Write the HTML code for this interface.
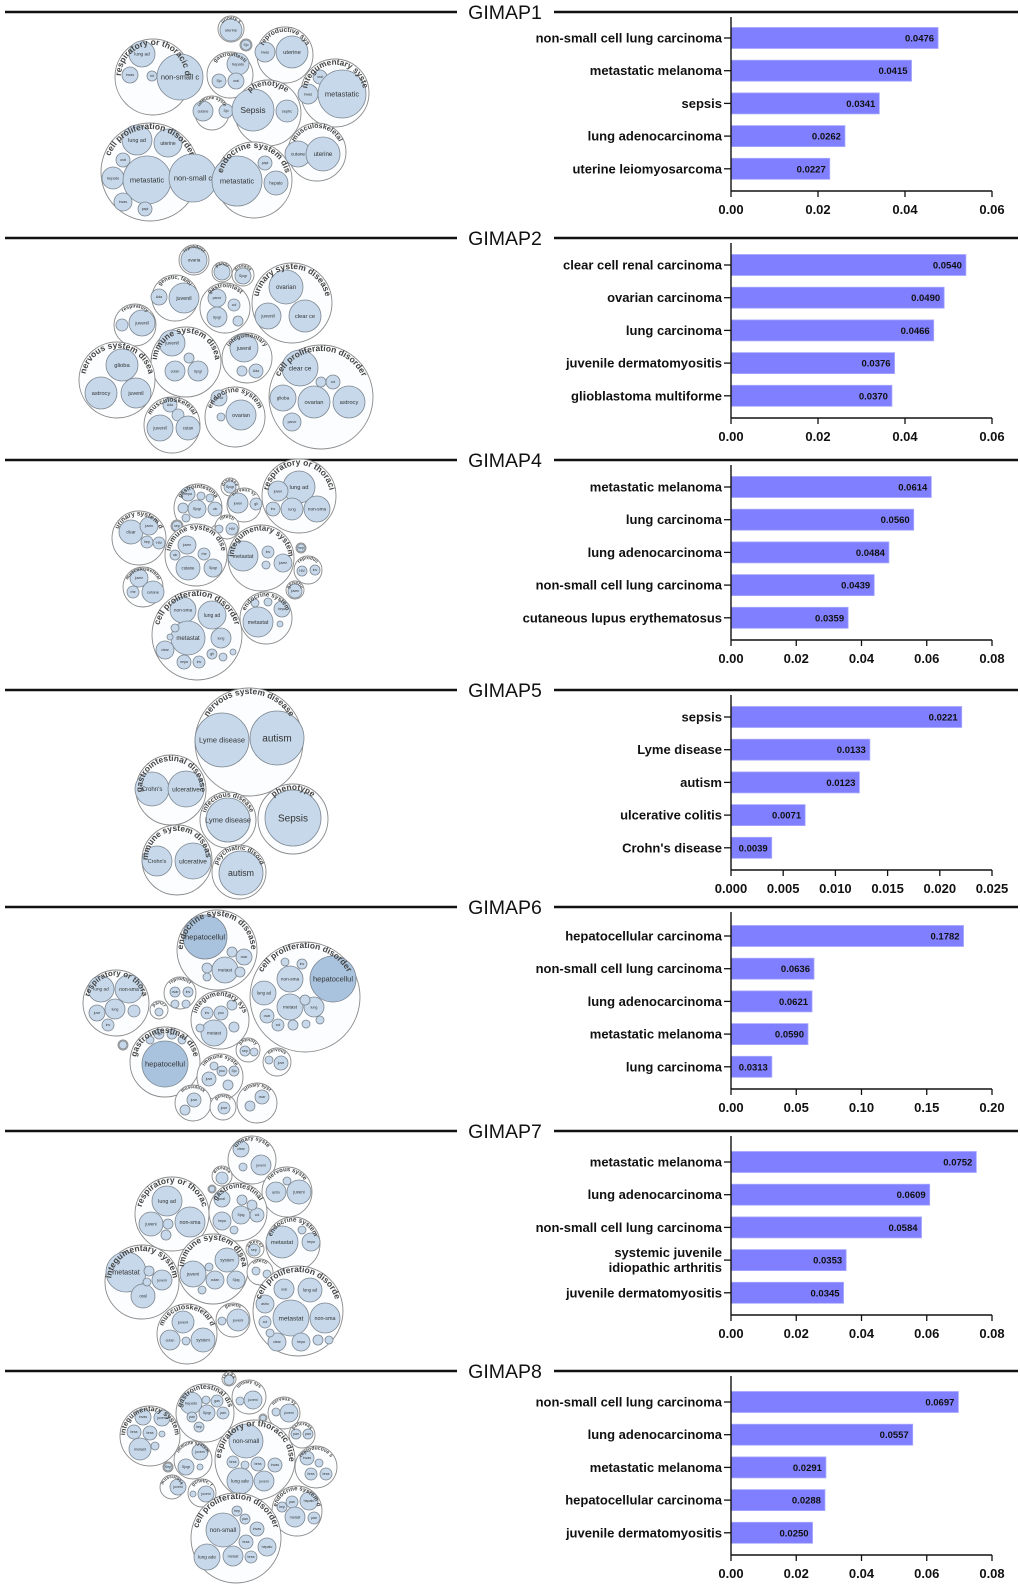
<!DOCTYPE html>
<html><head><meta charset="utf-8"><style>
html,body{margin:0;padding:0;background:#fff}
svg{display:block}
</style></head><body>
<svg id="fig" width="1020" height="1594" viewBox="0 0 1020 1594" xmlns="http://www.w3.org/2000/svg" font-family="'Liberation Sans', Arial, sans-serif"></svg>
<script>
// ---------- bar chart data ----------
const genes = ["GIMAP1","GIMAP2","GIMAP4","GIMAP5","GIMAP6","GIMAP7","GIMAP8"];
const panelTops = [12,238,460,690,907,1131,1371];
const firstBarOffsets = [26,27,27,27,29,31,31];
const cats1 = ["non-small cell lung carcinoma","metastatic melanoma","sepsis","lung adenocarcinoma","uterine leiomyosarcoma"];
const vals1 = [0.0476,0.0415,0.0341,0.0262,0.0227];
const cats2 = ["clear cell renal carcinoma","ovarian carcinoma","lung carcinoma","juvenile dermatomyositis","glioblastoma multiforme"];
const vals2 = [0.0540,0.0490,0.0466,0.0376,0.0370];
const cats4 = ["metastatic melanoma","lung carcinoma","lung adenocarcinoma","non-small cell lung carcinoma","cutaneous lupus erythematosus"];
const vals4 = [0.0614,0.0560,0.0484,0.0439,0.0359];
const cats5 = ["sepsis","Lyme disease","autism","ulcerative colitis","Crohn's disease"];
const vals5 = [0.0221,0.0133,0.0123,0.0071,0.0039];
const cats6 = ["hepatocellular carcinoma","non-small cell lung carcinoma","lung adenocarcinoma","metastatic melanoma","lung carcinoma"];
const vals6 = [0.1782,0.0636,0.0621,0.0590,0.0313];
const cats7 = ["metastatic melanoma","lung adenocarcinoma","non-small cell lung carcinoma","systemic juvenile|idiopathic arthritis","juvenile dermatomyositis"];
const vals7 = [0.0752,0.0609,0.0584,0.0353,0.0345];
const cats8 = ["non-small cell lung carcinoma","lung adenocarcinoma","metastatic melanoma","hepatocellular carcinoma","juvenile dermatomyositis"];
const vals8 = [0.0697,0.0557,0.0291,0.0288,0.0250];
const ticks1 = ["0.00","0.02","0.04","0.06"];
const ticks2 = ["0.00","0.02","0.04","0.06"];
const ticks4 = ["0.00","0.02","0.04","0.06","0.08"];
const ticks5 = ["0.000","0.005","0.010","0.015","0.020","0.025"];
const ticks6 = ["0.00","0.05","0.10","0.15","0.20"];
const ticks7 = ["0.00","0.02","0.04","0.06","0.08"];
const ticks8 = ["0.00","0.02","0.04","0.06","0.08"];
const allCats = [cats1,cats2,cats4,cats5,cats6,cats7,cats8];
const allVals = [vals1,vals2,vals4,vals5,vals6,vals7,vals8];
const allTicks = [ticks1,ticks2,ticks4,ticks5,ticks6,ticks7,ticks8];

// ---------- bubble data: [cx,cy,r,label,[[cx,cy,r,label],...]] ----------
const bub1 = [
 [153,77,38,"respiratory or thoracic d",[[142,54,13,"lung ad"],[130,75,8,"invas"],[152,76,5,"int"],[180,77,23,"non-small c"]]],
 [231,29,13,"urinary s",[[231,30,11,"uterine"]]],
 [246,45,6,"",[[246,45,5,"Sjo"]]],
 [285,55,28,"reproductive sys",[[265,52,10,"invas"],[292,52,16,"uterine"]]],
 [230,75,23,"gastrointesti",[[238,64,11,"hepato"],[219,81,7,"Sjo"],[236,81,8,"oral"]]],
 [212,113,17,"immune syste",[[203,111,10,"cutane"],[226,111,7,"Sjo"]]],
 [268,113,33,"phenotype",[[253,110,21,"Sepsis"],[287,111,11,"septic"]]],
 [335,93,34,"integumentary syste",[[320,77,7,"oral"],[308,94,10,"invas"],[342,94,24,"metastatic"]]],
 [150,172,49,"cell proliferation disorder",[[137,140,15,"lung ad"],[168,143,14,"uterine"],[123,160,7,"oral"],[113,178,11,"hepato"],[147,180,24,"metastatic"],[193,178,24,"non-small c"],[123,202,9,"invas"],[145,209,7,"papi"]]],
 [254,180,38,"endocrine system dis",[[237,181,25,"metastatic"],[265,163,7,"papi"],[276,183,12,"hepato"]]],
 [317,152,29,"musculoskeletal",[[298,154,13,"cutane"],[323,154,17,"uterine"]]]
];
const bub2 = [
 [194,260,15,"reproduct",[[194,260,13,"ovaria"]]],
 [222,272,10,"pancr",[[222,272,8,""]]],
 [243,275,11,"disease",[[243,276,8,"Sjogr"]]],
 [175,298,23,"genetic, fami",[[159,297,8,"Ada"],[184,298,15,"juvenil"]]],
 [225,308,25,"gastrointest",[[217,298,9,"pancr"],[234,305,6,"col"],[217,317,10,"Sjogr"],[238,321,5,""]]],
 [292,303,40,"urinary system disease",[[286,287,17,"ovarian"],[268,316,13,"juvenil"],[305,316,16,"clear ce"]]],
 [135,325,21,"respiratory",[[142,323,13,"juvenil"],[122,325,6,""]]],
 [186,362,35,"immune system disea",[[172,343,13,"juvenil"],[175,371,10,"cutan"],[198,371,10,"Sjogr"],[189,358,5,""]]],
 [247,358,25,"integumentary",[[244,348,14,"juvenil"],[256,371,7,"Ada"],[242,371,5,""]]],
 [117,380,38,"nervous system disea",[[122,365,16,"glioba"],[101,393,16,"astrocy"],[136,393,15,"juvenil"]]],
 [321,397,52,"cell proliferation disorder",[[300,368,18,"clear ce"],[333,382,7,"col"],[321,382,5,""],[283,398,13,"glioba"],[314,402,16,"ovarian"],[349,402,16,"astrocy"],[292,422,9,"pancr"]]],
 [172,425,28,"musculoskeletal",[[170,405,7,"Ada"],[178,415,6,""],[160,428,13,"juvenil"],[188,428,12,"cutan"]]],
 [235,417,30,"endocrine system",[[219,398,8,"pancr"],[241,415,15,"ovarian"],[221,417,4,""]]]
];
const bub4 = [
 [230,487,9,"disease",[[230,487,6,"Sjogr"]]],
 [198,508,24,"gastrointestina",[[188,494,7,"nepa"],[197,509,9,"Sjogr"],[215,509,7,"ulc"],[183,508,5,""],[201,496,4,""],[210,498,4,""],[186,518,4,""]]],
 [244,505,17,"nervous sy",[[238,503,10,"juven"],[256,504,6,"gli"]]],
 [299,496,37,"respiratory or thoraci",[[299,487,16,"lung ad"],[278,491,10,"juven"],[273,509,7,"inv"],[292,509,11,"lung"],[317,509,13,"non-sma"]]],
 [227,527,12,"infecti",[[232,529,6,"HIV"],[219,529,4,""]]],
 [177,526,6,"",[[177,526,5,"sep"]]],
 [139,538,27,"urinary system d",[[131,532,12,"clear"],[149,526,9,"juven"],[147,542,6,"hep"],[159,543,6,"HIV"]]],
 [196,555,31,"immune system dise",[[187,545,9,"juven"],[175,555,5,"ulc"],[204,554,6,"rhe"],[188,568,12,"cutane"],[213,568,9,"Sjogr"]]],
 [261,558,33,"integumentary system",[[243,556,15,"metastat"],[268,552,6,"inv"],[283,563,9,"juven"],[266,565,4,""]]],
 [301,548,5,"",[[301,548,4,"hep"]]],
 [308,570,14,"reproduc",[[302,571,5,"HIV"],[315,570,5,"inv"]]],
 [295,590,9,"genetic",[[295,591,7,"juven"]]],
 [143,587,20,"musculoskeletal",[[139,578,9,"juven"],[133,592,6,"rhe"],[153,592,11,"cutane"]]],
 [197,635,45,"cell proliferation disorder",[[183,610,13,"non-sma"],[212,615,14,"lung ad"],[188,638,17,"metastat"],[221,638,10,"lung"],[165,650,9,"clear"],[184,662,7,"nepa"],[199,662,6,"inv"],[212,654,5,"gli"],[223,657,4,""],[233,652,3,""],[175,628,4,""],[170,637,3,""]]],
 [266,618,26,"endocrine system",[[258,622,15,"metastat"],[282,609,8,"hepa"],[255,603,4,""],[268,602,4,""],[280,624,3,""]]]
];
const bub5 = [
 [249,742,54,"nervous system disease",[[222,740,27,"Lyme disease"],[277,738,27,"autism"]]],
 [171,790,35,"gastrointestinal disease",[[152,789,17,"Crohn's"],[186,789,18,"ulcerative"]]],
 [228,820,28,"infectious disease",[[228,820,22,"Lyme disease"]]],
 [293,819,35,"phenotype",[[293,818,28,"Sepsis"]]],
 [177,860,35,"immune system disease",[[157,861,15,"Crohn's"],[193,861,18,"ulcerative"]]],
 [239,872,27,"psychiatric disord",[[241,873,22,"autism"]]]
];
const bub6 = [
 [217,950,40,"endocrine system disease",[[205,937,22,"hepatocellul"],[225,970,13,"metast"],[244,957,8,"ovar"],[232,952,5,""],[207,968,5,""],[207,977,4,""],[240,972,5,""]]],
 [305,997,55,"cell proliferation disorder",[[333,979,23,"hepatocellul"],[264,993,12,"lung ad"],[290,979,13,"non-sma"],[290,1007,13,"metast"],[314,1007,10,"lung"],[267,1016,7,"ovar"],[278,1025,6,"col"],[302,964,5,"inv"],[285,962,4,""],[305,1000,5,""],[293,1025,5,""],[306,1024,4,""],[320,1020,4,""]]],
 [116,1003,33,"respiratory or thora",[[101,989,13,"lung ad"],[129,989,14,"non-sma"],[115,1009,10,"lung"],[97,1013,8,"juve"],[108,1025,6,"inv"],[134,1011,6,""]]],
 [180,993,16,"reproduct",[[175,992,5,"ovar"],[188,992,5,"inv"],[175,1004,4,""],[186,1004,4,""]]],
 [159,1010,9,"pancr",[[159,1012,4,""]]],
 [220,1020,29,"integumentary sys",[[207,1013,6,"inv"],[221,1013,7,"pso"],[214,1033,13,"metast"],[234,1027,5,""],[232,1005,5,""],[200,1028,4,""]]],
 [123,1045,5,"",[[123,1045,4,""]]],
 [165,1062,35,"gastrointestinal dise",[[165,1064,23,"hepatocellul"],[159,1034,5,"Sjo"],[172,1034,5,"col"],[150,1040,4,""],[182,1040,4,""]]],
 [248,1050,12,"phenoty",[[245,1051,5,"sep"],[254,1052,4,""]]],
 [277,1062,14,"nervous",[[281,1063,7,"juve"],[269,1060,4,""]]],
 [220,1077,23,"immune syste",[[209,1079,7,"juve"],[222,1071,5,"pso"],[234,1071,5,"Sjo"],[228,1085,5,""],[214,1066,4,""]]],
 [193,1103,18,"musculosk",[[194,1100,7,"juve"],[185,1110,5,""]]],
 [223,1107,13,"genetic",[[224,1108,6,"juve"]]],
 [257,1103,20,"urinary syst",[[262,1097,7,"ovar"],[250,1106,5,""]]]
];
const bub7 = [
 [252,1160,24,"urinary syste",[[241,1149,8,"clear"],[261,1165,10,"juveni"],[243,1167,4,""]]],
 [222,1176,10,"disease",[[222,1178,6,""]]],
 [212,1189,4,"",[[212,1189,3,""]]],
 [287,1192,25,"nervous syste",[[276,1192,10,"astro"],[299,1192,12,"juveni"],[287,1181,4,""]]],
 [172,1214,37,"respiratory or thorac",[[167,1201,15,"lung ad"],[151,1224,12,"juveni"],[190,1222,15,"non-sma"],[168,1224,5,""],[166,1235,5,""]]],
 [238,1212,29,"gastrointestinal",[[222,1199,8,"oral"],[241,1215,9,"Sjog"],[257,1215,7,"col"],[222,1221,9,"hepa"],[242,1200,5,""],[252,1205,5,""],[234,1230,4,""]]],
 [293,1244,27,"endocrine system",[[282,1242,16,"metastat"],[311,1242,9,"hepa"],[302,1230,4,""]]],
 [255,1249,9,"phenot",[[254,1250,6,"sep"]]],
 [142,1282,37,"integumentary system",[[126,1272,20,"metastat"],[162,1280,10,"juveni"],[143,1296,12,"oral"],[149,1271,5,""],[147,1282,4,""]]],
 [213,1269,35,"immune system disea",[[193,1274,13,"juveni"],[227,1260,12,"system"],[215,1280,9,"cutan"],[236,1280,9,"Sjog"],[209,1267,4,""],[202,1290,4,""]]],
 [260,1272,13,"infecti",[[256,1271,4,""],[267,1274,4,""]]],
 [298,1311,45,"cell proliferation disorde",[[284,1289,10,"oral"],[310,1290,12,"lung ad"],[265,1304,9,"astro"],[291,1318,18,"metastat"],[325,1318,15,"non-sma"],[265,1322,6,"col"],[277,1342,9,"clear"],[301,1342,9,"hepa"],[318,1340,5,""],[329,1340,4,""],[270,1333,4,""]]],
 [187,1334,30,"musculoskeletal d",[[183,1322,11,"juveni"],[170,1340,10,"cutan"],[203,1340,12,"system"],[186,1341,4,""]]],
 [233,1320,17,"genetic",[[238,1320,11,"juveni"],[222,1321,4,""]]]
];
const bub8 = [
 [229,1379,7,"disease",[[229,1380,5,""]]],
 [205,1413,29,"gastrointestinal dis",[[191,1403,11,"hepato"],[217,1401,6,"gas"],[207,1413,8,"Sjogr"],[223,1413,6,"pan"],[192,1417,5,"pan"],[199,1427,5,"hep"],[206,1400,4,""]]],
 [249,1397,17,"urinary sys",[[253,1400,9,"juveni"],[240,1401,4,""]]],
 [284,1413,16,"nervous sy",[[289,1413,9,"juveni"],[276,1412,4,""]]],
 [263,1418,4,"",[[263,1418,3,""]]],
 [150,1436,30,"integumentary system",[[143,1417,8,"invas"],[162,1418,8,"juveni"],[134,1432,7,"brea"],[150,1433,7,"brea"],[140,1449,11,"metast"],[155,1446,4,""],[162,1434,3,""]]],
 [255,1460,40,"respiratory or thoracic dise",[[246,1441,17,"non-small"],[233,1462,6,"brea"],[258,1464,7,"brea"],[275,1465,7,"invas"],[240,1481,13,"lung ade"],[264,1481,10,"juveni"],[245,1465,4,""]]],
 [302,1435,13,"pancreas",[[296,1434,5,"pan"],[308,1434,5,"pan"]]],
 [316,1467,21,"reproductive s",[[307,1458,7,"invas"],[311,1474,6,"brea"],[326,1474,6,"brea"],[319,1463,4,""]]],
 [193,1460,19,"immune system",[[200,1452,8,"juveni"],[186,1467,8,"Sjogr"],[200,1467,3,""]]],
 [168,1467,5,"",[[168,1467,4,"Sep"]]],
 [172,1487,12,"musculosk",[[178,1487,8,"juveni"]]],
 [202,1493,14,"genetic, f",[[206,1494,8,"juveni"],[193,1494,3,""]]],
 [297,1511,25,"endocrine system d",[[282,1507,5,"hep"],[292,1502,6,"pan"],[309,1501,9,"hepato"],[295,1517,10,"metast"],[314,1518,6,"pan"]]],
 [236,1538,45,"cell proliferation disorder",[[223,1530,17,"non-small"],[237,1511,5,"hep"],[245,1519,5,"pan"],[257,1529,7,"invas"],[246,1542,7,"brea"],[267,1547,9,"hepato"],[207,1557,13,"lung ade"],[233,1556,10,"metast"],[251,1557,6,"brea"]]]
];
const allBubbles = [bub1,bub2,bub4,bub5,bub6,bub7,bub8];

const NS = "http://www.w3.org/2000/svg";
const svg = document.getElementById("fig");
function mk(tag, attrs, parent){
  const e = document.createElementNS(NS, tag);
  for (const k in attrs) e.setAttribute(k, attrs[k]);
  (parent||svg).appendChild(e);
  return e;
}
const X0 = 731, XW = 261;
let pid = 0;

genes.forEach((g, p) => {
  const y0 = panelTops[p];
  const grp = mk("g", {});
  
  

  const l1 = mk("line", {x1:5, y1:y0, x2:457, y2:y0, stroke:"#111", "stroke-width":2.4}, grp);
  
  
  const l2 = mk("line", {x1:554, y1:y0, x2:1018, y2:y0, stroke:"#111", "stroke-width":2.4}, grp);
  
  
  const tt = mk("text", {x:505, y:y0+7, "font-size":19.5, "text-anchor":"middle", fill:"#111"}, grp);
  tt.textContent = g;
  
  

  const bg = mk("g", {}, grp);
  
  
  allBubbles[p].forEach(ob => {
    const [cx, cy, r, lab, inner] = ob;
    const oc = mk("circle", {cx, cy, r, fill:"#fcfdfe", stroke:"#8a8a8a", "stroke-width":0.9}, bg);
    
    
    inner.forEach(ib => {
      const [ix, iy, ir, il] = ib;
      const dark = il.startsWith("hepatocell") && p === 4;
      const ic = mk("circle", {cx:ix, cy:iy, r:ir, fill: dark ? "#a9c3de" : "#c6d8ea", stroke:"#7d8690", "stroke-width":0.8}, bg);
      
      
      if (il) {
        let fs = Math.max(3.5, Math.min(7.5, ir * 0.36));
        if (il === "Sepsis" || (p === 3 && il === "autism")) fs = Math.min(10, ir * 0.4);
        const it = mk("text", {x:ix, y:iy + fs*0.35, "font-size":fs.toFixed(1), "text-anchor":"middle", fill:"#333"}, bg);
        it.textContent = il;
        
        
      }
    });
    if (lab) {
      const fs = Math.max(4.5, Math.min(8.5, r * 0.24));
      const rr = r - fs * 0.7;
      const id = "arc" + (pid++);
      mk("path", {id, d:`M ${cx-rr} ${cy} A ${rr} ${rr} 0 0 1 ${cx+rr} ${cy}`, fill:"none"}, bg);
      const ct = mk("text", {"font-size":fs.toFixed(1), "font-weight":"bold", fill:"#444"}, bg);
      
      
      const tp = mk("textPath", {href:"#"+id, startOffset:"50%", "text-anchor":"middle"}, ct);
      tp.textContent = lab;
    }
  });

  const cats = allCats[p], vals = allVals[p], ticks = allTicks[p];
  const maxV = parseFloat(ticks[ticks.length-1]);
  const xs = v => X0 + v / maxV * XW;
  const yb = i => y0 + firstBarOffsets[p] + i * 32.7;
  const axisY = y0 + firstBarOffsets[p] + 153;
  const chart = mk("g", {}, grp);
  
  

  cats.forEach((c, i) => {
    const cy = yb(i);
    const bar = mk("rect", {x:X0, y:cy-10.5, width:xs(vals[i])-X0, height:21, fill:"#7f7fff", stroke:"#a9a9ff", "stroke-width":0.8}, chart);
    
    
    const vt = mk("text", {x:xs(vals[i])-4, y:cy+3.5, "font-size":9.5, "font-weight":"bold", "text-anchor":"end", fill:"#111"}, chart);
    vt.textContent = vals[i].toFixed(4);
    
    
    const tk = mk("line", {x1:X0-7, y1:cy, x2:X0, y2:cy, stroke:"#111", "stroke-width":1.3}, chart);
    
    
    const parts = c.split("|");
    const ct = mk("text", {x:X0-9, y:0, "font-size":13, "font-weight":"bold", "text-anchor":"end", fill:"#111"}, chart);
    
    
    parts.forEach((pt, k) => {
      const ts = mk("tspan", {x:X0-9, y: cy + 4.5 + (k - (parts.length-1)/2) * 15}, ct);
      ts.textContent = pt;
    });
  });
  const ya = mk("line", {x1:X0, y1:y0+5, x2:X0, y2:axisY, stroke:"#111", "stroke-width":1.4}, chart);
  
  
  const xa = mk("line", {x1:X0, y1:axisY, x2:X0+XW, y2:axisY, stroke:"#111", "stroke-width":1.4}, chart);
  
  
  ticks.forEach(t => {
    const x = xs(parseFloat(t));
    const tl = mk("line", {x1:x, y1:axisY, x2:x, y2:axisY+6, stroke:"#111", "stroke-width":1.3}, chart);
    
    
    const tx = mk("text", {x, y:axisY+23, "font-size":13, "font-weight":"bold", "text-anchor":"middle", fill:"#111"}, chart);
    tx.textContent = t;
    
    
  });
});
</script>
</body></html>
